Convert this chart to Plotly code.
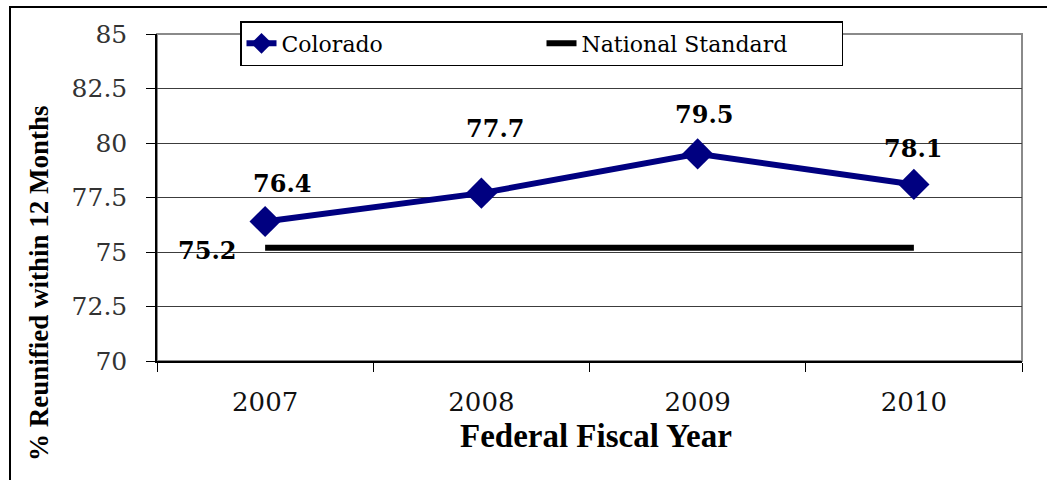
import plotly.graph_objects as go

years = ["2007", "2008", "2009", "2010"]
colorado = [76.4, 77.7, 79.5, 78.1]
national = [75.2, 75.2, 75.2, 75.2]
y_ticks = [70, 72.5, 75, 77.5, 80, 82.5, 85]
y_tick_text = ["70", "72.5", "75", "77.5", "80", "82.5", "85"]
x_title = "Federal Fiscal Year"
y_title = "% Reunified within 12 Months"

W, H = 1047, 480
L, R, T, B = 157, 25, 34, 119
pw, ph = W - L - R, H - T - B

def px(x):
    return (x - L) / pw

def py(y):
    return (H - B - y) / ph

fig = go.Figure()
fig.add_trace(go.Scatter(
    x=years, y=colorado, name="Colorado", mode="lines+markers",
    line=dict(color="#000080", width=6),
    marker=dict(symbol="diamond", size=24, color="#000080"),
))
fig.add_trace(go.Scatter(
    x=years, y=national, name="National Standard", mode="lines",
    line=dict(color="#000000", width=6),
))

label_font = dict(family="DejaVu Serif", size=24, color="#000000", weight="bold")

# data labels (category index positions)
shifts = [(17, 38), (14, 65), (6, 39), (-1, 36)]
for i, (v, (dx, dy)) in enumerate(zip(colorado, shifts)):
    fig.add_annotation(x=i, y=v, xref="x", yref="y", text=f"{v}", showarrow=False,
                       xshift=dx, yshift=dy, xanchor="center", yanchor="middle",
                       font=label_font)
fig.add_annotation(x=0, y=national[0], xref="x", yref="y", text=f"{national[0]}",
                   showarrow=False, xshift=-58, yshift=-3, xanchor="center", yanchor="middle",
                   font=label_font)

# axis titles
fig.add_annotation(x=px(39), y=py(283), xref="paper", yref="paper",
                   xanchor="center", yanchor="middle",
                   text=f"<b>{y_title}</b>", textangle=-90, showarrow=False,
                   font=dict(family="Liberation Serif", size=27, color="#000000"))
fig.add_annotation(x=px(596), y=py(436), xref="paper", yref="paper",
                   xanchor="center", yanchor="middle",
                   text=f"<b>{x_title}</b>", showarrow=False,
                   font=dict(family="Liberation Serif", size=33, color="#000000"))

# plot-area border (gray top/right) and outer frame
fig.add_shape(type="rect", xref="paper", yref="paper", x0=0, y0=0, x1=1, y1=1,
              line=dict(color="#8a8a8a", width=2), layer="below")
fig.add_shape(type="rect", xref="paper", yref="paper",
              x0=px(10), y0=py(7), x1=px(1060), y1=py(500),
              line=dict(color="#000000", width=2), layer="above")

fig.update_layout(
    width=W, height=H,
    margin=dict(l=L, r=R, t=T, b=B),
    paper_bgcolor="white", plot_bgcolor="white",
    showlegend=True,
    legend=dict(
        orientation="h", x=px(240), y=py(21), xanchor="left", yanchor="top",
        bgcolor="white", bordercolor="#000000", borderwidth=1.5,
        font=dict(family="DejaVu Serif", size=22, color="#000000"),
        entrywidth=255, entrywidthmode="pixels",
    ),
    xaxis=dict(
        type="category", range=[-0.5, 3.5],
        showline=True, linecolor="#000000", linewidth=1.5,
        ticks="outside", tickson="boundaries", ticklen=9, tickcolor="#000000",
        showgrid=False, ticklabelstandoff=17,
        tickfont=dict(family="DejaVu Serif", size=26, color="#111111"),
    ),
    yaxis=dict(
        range=[70, 85], tickvals=y_ticks, ticktext=y_tick_text,
        showline=True, linecolor="#000000", linewidth=1.5,
        ticks="outside", ticklen=9, tickcolor="#000000",
        showgrid=True, gridcolor="#3c3c3c", gridwidth=1,
        zeroline=False, ticklabelstandoff=14,
        tickfont=dict(family="DejaVu Serif", size=25, color="#333333"),
    ),
)

fig.write_html("out.html", config={"displayModeBar": False},
               post_script="document.body.style.margin='0px';")
